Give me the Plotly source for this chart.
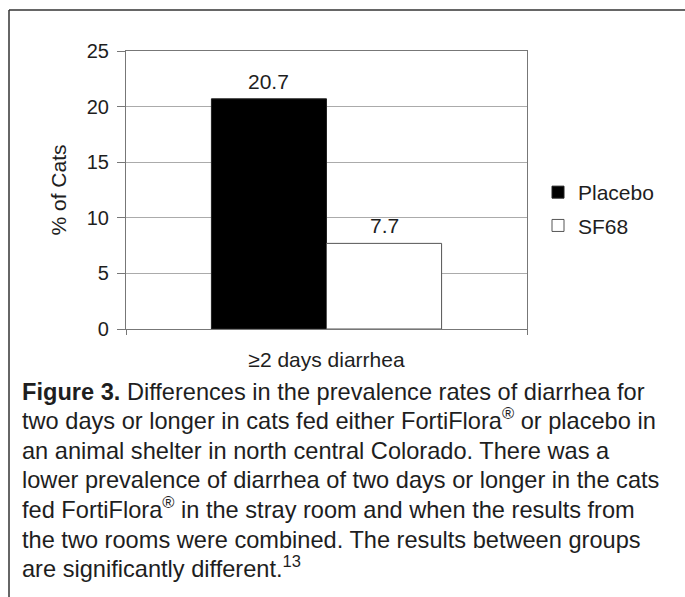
import plotly.graph_objects as go

# Figure canvas and plot-area margins (pixels)
W, H = 685, 597
ML, MR, MT, MB = 126, 158, 51, 268

# Data
categories = ["≥2 days diarrhea"]
placebo = [20.7]
sf68 = [7.7]
y_ticks = [0, 5, 10, 15, 20, 25]

caption_lines = [
    "<b>Figure 3.</b> Differences in the prevalence rates of diarrhea for",
    "two days or longer in cats fed either FortiFlora<sup>®</sup> or placebo in",
    "an animal shelter in north central Colorado. There was a",
    "lower prevalence of diarrhea of two days or longer in the cats",
    "fed FortiFlora<sup>®</sup> in the stray room and when the results from",
    "the two rooms were combined. The results between groups",
    "are significantly different.<sup>13</sup>",
]

FONT = "Liberation Sans, Arial, Helvetica, sans-serif"
TEXT = "#1e1e1e"
BARGAP = 0.426

plot_w = W - ML - MR
plot_h = H - MT - MB


def px_x(px):
    return (px - ML) / plot_w


def px_y(py):
    return (H - MB - py) / plot_h


fig = go.Figure()
fig.add_trace(go.Bar(
    name="Placebo", x=categories, y=placebo, legendgroup="placebo",
    marker=dict(color="#000000", line=dict(color="#222222", width=1)),
))
fig.add_trace(go.Bar(
    name="SF68", x=categories, y=sf68, legendgroup="sf68",
    marker=dict(color="#ffffff", line=dict(color="#555555", width=1)),
))

# value labels above each bar (bar offset = half a bar width from category centre)
bar_w_px = plot_w * (1 - BARGAP) / 2
for i, vals in enumerate([placebo, sf68]):
    for cat, v in zip(categories, vals):
        fig.add_annotation(
            x=cat, y=v, xref="x", yref="y",
            text=f"{v:.1f}", showarrow=False,
            xshift=(i - 0.5) * bar_w_px, yshift=4, yanchor="bottom",
            font=dict(family=FONT, size=21, color=TEXT),
        )

# caption, one annotation per line; anchored at the bottom so that
# superscripts (which grow the box upward) keep the baselines even
LINE_STEP = 29.6
for k, line in enumerate(caption_lines):
    fig.add_annotation(
        x=px_x(20), y=px_y(406.5 + k * LINE_STEP), xref="paper", yref="paper",
        xanchor="left", yanchor="bottom", align="left", showarrow=False,
        text=line, font=dict(family=FONT, size=23.6, color=TEXT),
    )

# outer frame (top and left rules)
frame = dict(type="line", xref="paper", yref="paper",
             line=dict(color="#333333", width=1.5))
fig.add_shape(x0=px_x(9), y0=px_y(10), x1=px_x(W + 2), y1=px_y(10), **frame)
fig.add_shape(x0=px_x(9), y0=px_y(10), x1=px_x(9), y1=px_y(H + 2), **frame)

fig.update_layout(
    width=W, height=H,
    margin=dict(l=ML, r=MR, t=MT, b=MB, autoexpand=False),
    paper_bgcolor="white", plot_bgcolor="white",
    barmode="group", bargap=BARGAP, bargroupgap=0,
    font=dict(family=FONT, size=20, color=TEXT),
    showlegend=True,
    legend=dict(
        x=px_x(538), y=px_y(172), xanchor="left", yanchor="top",
        traceorder="grouped", tracegroupgap=3,
        font=dict(family=FONT, size=21, color=TEXT),
        bgcolor="rgba(0,0,0,0)", itemwidth=30,
    ),
    xaxis=dict(
        type="category", showline=True, linecolor="#777777", linewidth=1.2,
        mirror=True, ticks="outside", tickson="boundaries", ticklen=5,
        tickcolor="#777777", ticklabelstandoff=12,
        tickfont=dict(family=FONT, size=21, color=TEXT),
    ),
    yaxis=dict(
        range=[0, 25], tickvals=y_ticks, showgrid=True, gridcolor="#ababab",
        gridwidth=1, zeroline=False, showline=True, linecolor="#777777",
        linewidth=1.2, mirror=True, ticks="outside", ticklen=8,
        tickcolor="#777777", ticklabelstandoff=4,
        tickfont=dict(family=FONT, size=20, color=TEXT),
        title=dict(text="% of Cats", standoff=14,
                   font=dict(family=FONT, size=21, color=TEXT)),
    ),
)

fig.write_html("out.html")
